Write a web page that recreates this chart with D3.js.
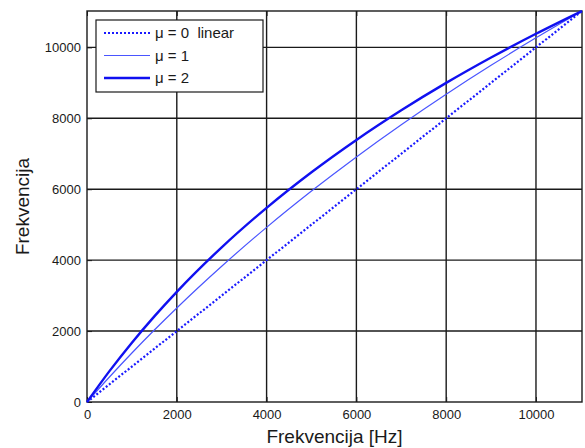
<!DOCTYPE html>
<html>
<head>
<meta charset="utf-8">
<script src="https://cdn.jsdelivr.net/npm/d3@7"></script>
<style>
  body { margin: 0; background: #fff; }
  svg { display: block; font-family: "Liberation Sans", Arial, sans-serif; }
  .lgtext { white-space: pre; }
</style>
</head>
<body>
<svg id="chart" width="585" height="448"></svg>
<script>
// values
const freqs = [0, 500, 1000, 1500, 2000, 3000, 4000, 5000, 6000, 7000, 8000, 9000, 10000, 11025];
const mu0 = [0, 500, 1000, 1500, 2000, 3000, 4000, 5000, 6000, 7000, 8000, 9000, 10000, 11025];
const mu1 = [0, 705, 1381, 2029, 2652, 3828, 4925, 5948, 6911, 7819, 8678, 9493, 10268, 11025];
const mu2 = [0, 871, 1673, 2415, 3107, 4361, 5475, 6478, 7390, 8226, 8998, 9714, 10383, 11025];
const tickVals = [0, 2000, 4000, 6000, 8000, 10000];
const legendLabels = ["\u03bc = 0  linear", "\u03bc = 1", "\u03bc = 2"];

const svg = d3.select("#chart");
const mLeft = 87, mRight = 582, mTop = 11, mBottom = 402;

const x = d3.scaleLinear().domain([0, 11025]).range([mLeft, mRight]);
const y = d3.scaleLinear().domain([0, 11025]).range([mBottom, mTop]);

// grid
const grid = svg.append("g").attr("stroke", "#1a1a1a").attr("stroke-width", 1.4);
grid.selectAll(".gx").data(tickVals.slice(1)).enter().append("line")
  .attr("x1", d => x(d)).attr("x2", d => x(d))
  .attr("y1", mTop).attr("y2", mBottom);
grid.selectAll(".gy").data(tickVals.slice(1)).enter().append("line")
  .attr("y1", d => y(d)).attr("y2", d => y(d))
  .attr("x1", mLeft).attr("x2", mRight);

// axes
const xAxis = d3.axisBottom(x).tickValues(tickVals).tickSize(-5).tickPadding(8).tickFormat(d3.format("d"));
const yAxis = d3.axisLeft(y).tickValues(tickVals).tickSize(-5).tickPadding(6).tickFormat(d3.format("d"));

svg.append("g").attr("transform", `translate(0,${mBottom})`).call(xAxis)
  .call(g => g.select(".domain").remove());
svg.append("g").attr("transform", `translate(${mLeft},0)`).call(yAxis)
  .call(g => g.select(".domain").remove());
svg.append("g").attr("transform", `translate(0,${mTop})`).call(d3.axisTop(x).tickValues(tickVals).tickSize(-5).tickFormat(""))
  .call(g => g.select(".domain").remove());
svg.selectAll(".tick line").attr("stroke", "#1a1a1a");
svg.selectAll(".tick text").attr("font-size", 13).attr("fill", "#1a1a1a")
  .attr("font-family", "Liberation Sans, Arial, sans-serif");

// box
svg.append("rect").attr("x", mLeft).attr("y", mTop)
  .attr("width", mRight - mLeft).attr("height", mBottom - mTop)
  .attr("fill", "none").attr("stroke", "#1a1a1a").attr("stroke-width", 1.4);

// lines
const line = vals => d3.line().x((d, i) => x(freqs[i])).y(d => y(d)).curve(d3.curveMonotoneX)(vals);
const series = [
  { vals: mu0, width: 2.2, dash: "2,2", color: "#1a1aff" },
  { vals: mu1, width: 1.2, dash: null, color: "#4a55ff" },
  { vals: mu2, width: 2.4, dash: null, color: "#1010f0" }
];
series.forEach(s => {
  svg.append("path").attr("d", line(s.vals))
    .attr("fill", "none").attr("stroke", s.color)
    .attr("stroke-width", s.width).attr("stroke-dasharray", s.dash);
});

// legend
const lg = svg.append("g");
lg.append("rect").attr("x", 96).attr("y", 20).attr("width", 167).attr("height", 72)
  .attr("fill", "#fff").attr("stroke", "#1a1a1a").attr("stroke-width", 1.2);
series.forEach((s, i) => {
  const ly = 33 + i * 22.5;
  lg.append("line").attr("x1", 104).attr("x2", 150).attr("y1", ly).attr("y2", ly)
    .attr("stroke", s.color).attr("stroke-width", s.width).attr("stroke-dasharray", s.dash);
  lg.append("text").attr("class", "lgtext").attr("x", 155).attr("y", ly + 5).attr("font-size", 15)
    .attr("fill", "#1a1a1a").text(legendLabels[i]);
});

// axis titles
svg.append("text").attr("x", (mLeft + mRight) / 2).attr("y", 443)
  .attr("text-anchor", "middle").attr("font-size", 19).attr("fill", "#1a1a1a")
  .text("Frekvencija [Hz]");
svg.append("text").attr("transform", `translate(29,${(mTop + mBottom) / 2}) rotate(-90)`)
  .attr("text-anchor", "middle").attr("font-size", 19).attr("fill", "#1a1a1a")
  .text("Frekvencija");
</script>
</body>
</html>
